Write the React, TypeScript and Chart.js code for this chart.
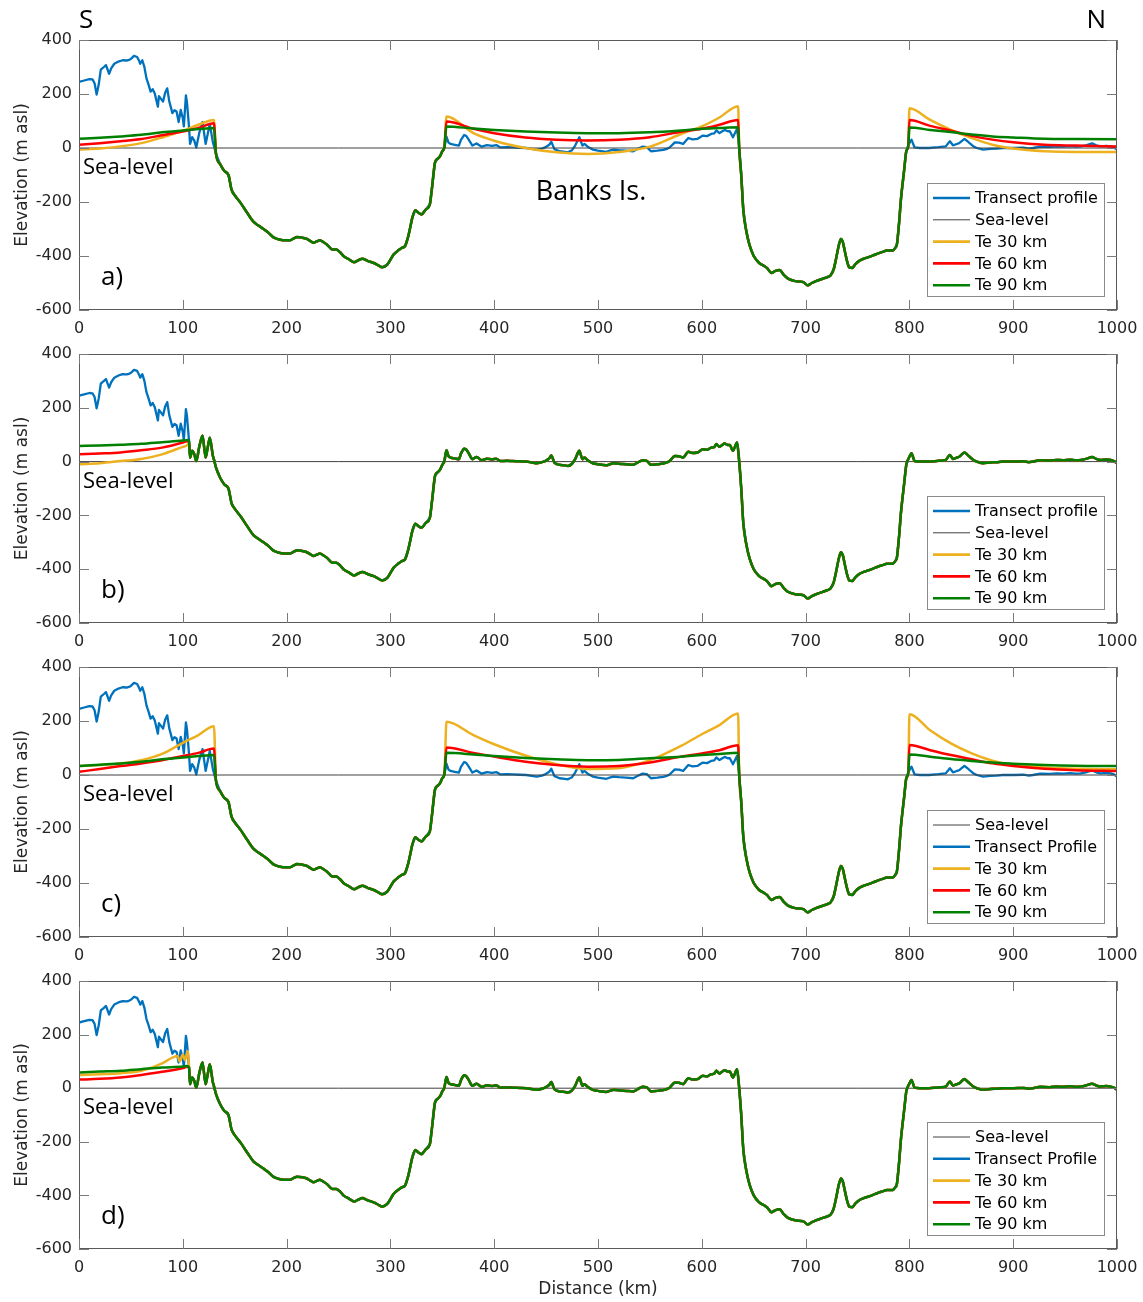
import React, { useEffect, useRef } from 'react';
import { Chart, registerables } from 'chart.js';
Chart.register(...registerables);

// ---------- Transect profile (distance km, elevation m) ----------
const PROFILE_KM = [0,5,10,13,15,17,19,21,24,26,29,31,34,38,42,46,48,50,53,56,58,59,61,63,65,67,69,71,73,76,77,79,81,83,85,87,90,92,94,96,98,100,101,103,104,106,107,109,111,113,116,119,122,124,126,129,130,132,136,140,144,147,150,156,162,168,172,177,182,187,192,197,203,207,210,215,219,223,226,229,232,236,239,244,248,252,255,260,265,269,273,278,284,288,292,297,303,308,311,314,317,319,321,324,327,330,334,338,340,343,346,348,350,352,354,356,358,362,366,368,371,373,375,379,383,388,393,398,402,406,412,418,425,431,436,441,446,449,453,455,458,463,468,471,475,478,482,485,487,490,495,500,508,512,515,520,527,534,538,543,547,551,557,563,567,569,574,578,582,587,591,596,601,605,609,612,614,617,619,622,625,627,630,634,636,638,640,643,646,650,655,660,663,667,671,675,679,683,690,698,702,706,710,716,721,724,727,729,732,734,736,737,740,742,745,748,752,756,760,765,770,775,778,784,786,788,790,792,795,797,799,801,802,805,810,819,828,835,839,842,845,848,853,856,858,862,865,871,878,884,890,900,910,915,919,926,935,942,948,955,960,965,970,976,980,984,990,994,997,1000];
const PROFILE_M = [245,250,255,254,240,198,235,290,300,307,275,295,312,320,325,324,326,330,341,337,322,312,325,300,258,235,209,218,202,153,192,182,172,205,221,172,129,140,135,96,141,110,80,195,170,77,15,40,28,2,58,96,15,52,89,21,8,-22,-60,-85,-100,-155,-175,-205,-240,-273,-285,-298,-312,-330,-338,-342,-342,-335,-330,-332,-336,-345,-351,-346,-342,-350,-358,-376,-376,-388,-401,-412,-423,-416,-410,-418,-426,-434,-442,-432,-395,-378,-370,-364,-330,-296,-260,-231,-240,-246,-228,-209,-150,-53,-38,-29,-12,2,42,20,15,12,9,30,48,45,34,9,17,5,11,8,11,2,3,2,1,0,-3,-6,-2,2,12,23,-4,-12,-14,-16,-8,9,40,9,15,5,-6,-10,-14,-9,-6,-8,-10,-12,-4,5,3,-12,-10,-7,-2,2,21,20,15,37,32,34,46,44,52,54,65,55,60,67,62,62,40,71,2,-100,-230,-310,-360,-400,-425,-437,-445,-463,-455,-452,-470,-484,-493,-497,-509,-500,-493,-485,-478,-472,-450,-417,-360,-337,-350,-368,-420,-442,-444,-430,-417,-410,-405,-398,-390,-384,-380,-380,-372,-356,-280,-184,-80,-12,10,25,31,2,0,0,3,6,25,10,14,18,34,25,18,5,0,-6,-3,-2,0,0,1,-2,0,5,4,6,5,7,5,6,10,17,10,6,8,6,2,-6];

// ---------- Flexural (Te) curves over land segments ----------
const SEG1_KM = [0,20,40,60,80,100,115,130];
const SEG2_KM = [354,380,400,430,460,490,520,550,580,600,617,635];
const SEG3_KM = [800,820,840,860,880,900,930,960,1000];

// panel a
const A_TE30_S1 = [-6,-2,6,18,39,64,86,104];
const A_TE60_S1 = [12,18,25,33,47,61,74,92];
const A_TE90_S1 = [34,38,43,49,58,65,70,74];
const A_TE30_S2 = [117,55,27,0,-16,-22,-15,5,52,80,113,155];
const A_TE60_S2 = [98,71,55,39,31,28,31,40,60,71,86,104];
const A_TE90_S2 = [80,72,67,61,57,55,55,58,65,71,74,77];
const A_TE30_S3 = [147,104,67,37,12,-2,-12,-15,-15];
const A_TE60_S3 = [104,82,64,45,31,21,12,9,6];
const A_TE90_S3 = [76,67,59,50,43,39,34,33,32];

// panel b
const B_SEG1_KM = [0,20,40,60,80,100,105];
const B_TE30_S1 = [-10,-6,2,10,27,55,65];
const B_TE60_S1 = [27,30,34,42,52,71,77];
const B_TE90_S1 = [58,60,63,66,72,78,80];

// panel c
const C_TE30_S1 = [33,37,43,55,78,119,148,181];
const C_TE60_S1 = [12,22,33,43,55,70,82,98];
const C_TE90_S1 = [33,38,43,49,58,65,70,74];
const C_TE30_S2 = [197,148,114,72,40,22,25,55,108,151,185,228];
const C_TE60_S2 = [102,82,68,49,37,31,33,46,68,80,92,110];
const C_TE90_S2 = [82,76,70,63,58,55,56,62,68,74,78,82];
const C_TE30_S3 = [225,166,117,80,53,37,28,23,21];
const C_TE60_S3 = [111,92,74,58,43,33,23,18,15];
const C_TE90_S3 = [76,68,59,52,46,42,37,34,33];

// panel d
const D_TE30_KM = [0,20,40,60,80,90,95,97,100,102,105];
const D_TE30_S1 = [49,52,56,65,93,114,120,100,126,105,139];
const D_TE_KM = [0,20,40,60,80,100,104];
const D_TE60_S1 = [32,35,40,49,61,75,80];
const D_TE90_S1 = [59,62,65,71,77,81,83];

const X_TICKS = { min: 0, max: 1000, step: 100 };
const Y_TICKS = { min: -600, max: 400, step: 200 };

const COLORS = { profile: '#0072BD', sea: '#404040', te30: '#EDB120', te60: '#FF0000', te90: '#008000' };

type Seg = { km: number[]; m: number[] };

function buildTe(segs: Seg[]) {
  const pts: { x: number; y: number; t: number }[] = [];
  segs.forEach((s) => s.km.forEach((k, i) => pts.push({ x: k, y: s.m[i], t: 0 })));
  PROFILE_KM.forEach((k, i) => {
    const inside = segs.some((s) => k >= s.km[0] && k <= s.km[s.km.length - 1]);
    if (!inside) pts.push({ x: k, y: PROFILE_M[i], t: 1 });
  });
  pts.sort((a, b) => a.x - b.x || a.t - b.t);
  return pts.map((p) => ({ x: p.x, y: p.y }));
}

const PANELS = [
  {
    key: 'a', label: 'a)', profileLabel: 'Transect profile', legendOrder: ['profile', 'sea', 'te30', 'te60', 'te90'], banks: true, sn: true,
    top: 0, padTop: 40, plotH: 270, xH: 30, xTitle: false,
    te30: [{ km: SEG1_KM, m: A_TE30_S1 }, { km: SEG2_KM, m: A_TE30_S2 }, { km: SEG3_KM, m: A_TE30_S3 }],
    te60: [{ km: SEG1_KM, m: A_TE60_S1 }, { km: SEG2_KM, m: A_TE60_S2 }, { km: SEG3_KM, m: A_TE60_S3 }],
    te90: [{ km: SEG1_KM, m: A_TE90_S1 }, { km: SEG2_KM, m: A_TE90_S2 }, { km: SEG3_KM, m: A_TE90_S3 }],
  },
  {
    key: 'b', label: 'b)', profileLabel: 'Transect profile', legendOrder: ['profile', 'sea', 'te30', 'te60', 'te90'], banks: false, sn: false,
    top: 340, padTop: 14, plotH: 269, xH: 30, xTitle: false,
    te30: [{ km: B_SEG1_KM, m: B_TE30_S1 }],
    te60: [{ km: B_SEG1_KM, m: B_TE60_S1 }],
    te90: [{ km: B_SEG1_KM, m: B_TE90_S1 }],
  },
  {
    key: 'c', label: 'c)', profileLabel: 'Transect Profile', legendOrder: ['sea', 'profile', 'te30', 'te60', 'te90'], banks: false, sn: false,
    top: 653, padTop: 14, plotH: 270, xH: 30, xTitle: false,
    te30: [{ km: SEG1_KM, m: C_TE30_S1 }, { km: SEG2_KM, m: C_TE30_S2 }, { km: SEG3_KM, m: C_TE30_S3 }],
    te60: [{ km: SEG1_KM, m: C_TE60_S1 }, { km: SEG2_KM, m: C_TE60_S2 }, { km: SEG3_KM, m: C_TE60_S3 }],
    te90: [{ km: SEG1_KM, m: C_TE90_S1 }, { km: SEG2_KM, m: C_TE90_S2 }, { km: SEG3_KM, m: C_TE90_S3 }],
  },
  {
    key: 'd', label: 'd)', profileLabel: 'Transect Profile', legendOrder: ['sea', 'profile', 'te30', 'te60', 'te90'], banks: false, sn: false,
    top: 967, padTop: 14, plotH: 268, xH: 53, xTitle: true,
    te30: [{ km: D_TE30_KM, m: D_TE30_S1 }],
    te60: [{ km: D_TE_KM, m: D_TE60_S1 }],
    te90: [{ km: D_TE_KM, m: D_TE90_S1 }],
  },
];

const TICK_FONT = 'DejaVu Sans';
const NOTE_FONT = '"Open Sans"';

const decorPlugin = {
  id: 'decor',
  afterDatasetsDraw(chart: any, _args: any, opts: any) {
    const { ctx, chartArea: ca, scales } = chart;
    const xs = scales.x, ys = scales.y;
    ctx.save();
    // axes box
    ctx.strokeStyle = '#5a5a5a';
    ctx.lineWidth = 1;
    ctx.strokeRect(ca.left + 0.5, ca.top + 0.5, ca.right - ca.left - 1, ca.bottom - ca.top - 1);
    // inward ticks
    ctx.strokeStyle = '#7a7a7a';
    ctx.beginPath();
    xs.ticks.forEach((t: any) => {
      const px = Math.round(xs.getPixelForValue(t.value)) + 0.5;
      ctx.moveTo(px, ca.top); ctx.lineTo(px, ca.top + 10);
      ctx.moveTo(px, ca.bottom); ctx.lineTo(px, ca.bottom - 10);
    });
    ys.ticks.forEach((t: any) => {
      const py = Math.round(ys.getPixelForValue(t.value)) + 0.5;
      ctx.moveTo(ca.left, py); ctx.lineTo(ca.left + 10, py);
      ctx.moveTo(ca.right, py); ctx.lineTo(ca.right - 10, py);
    });
    ctx.stroke();

    // annotations
    const zeroY = ys.getPixelForValue(0);
    ctx.fillStyle = '#000';
    ctx.textBaseline = 'alphabetic';
    ctx.textAlign = 'left';
    ctx.font = `22px ${NOTE_FONT}`;
    ctx.fillText('Sea-level', ca.left + 4, zeroY + 26);
    ctx.font = `26px ${NOTE_FONT}`;
    ctx.fillText(opts.label, ca.left + 22, ca.bottom - 25);
    if (opts.banks) {
      ctx.font = `27px ${NOTE_FONT}`;
      ctx.fillText('Banks Is.', xs.getPixelForValue(440), zeroY + 52);
    }
    if (opts.sn) {
      ctx.font = `26px ${NOTE_FONT}`;
      ctx.fillText('S', ca.left, 28);
      ctx.textAlign = 'right';
      ctx.fillText('N', ca.right - 11, 28);
      ctx.textAlign = 'left';
    }

    // legend
    const lw = 178, lh = 114;
    const lx = ca.right - 12 - lw, ly = ca.bottom - 13 - lh;
    ctx.fillStyle = '#fff';
    ctx.fillRect(lx, ly, lw, lh);
    ctx.strokeStyle = '#8a8a8a';
    ctx.strokeRect(lx + 0.5, ly + 0.5, lw - 1, lh - 1);
    ctx.font = `16px "${TICK_FONT}"`;
    ctx.textBaseline = 'middle';
    opts.items.forEach((it: any, i: number) => {
      const y = ly + 15 + i * 21.8;
      ctx.strokeStyle = it.color;
      ctx.lineWidth = it.width;
      ctx.beginPath();
      ctx.moveTo(lx + 6, y); ctx.lineTo(lx + 43, y);
      ctx.stroke();
      ctx.fillStyle = '#000';
      ctx.fillText(it.text, lx + 48, y + 1);
    });
    ctx.restore();
  },
};

function Panel({ p }: { p: (typeof PANELS)[number] }) {
  const ref = useRef<HTMLCanvasElement>(null);
  const height = p.padTop + p.plotH + p.xH;
  useEffect(() => {
    if (!ref.current) return;
    const profile = PROFILE_KM.map((k, i) => ({ x: k, y: PROFILE_M[i] }));
    const sea = [{ x: X_TICKS.min, y: 0 }, { x: X_TICKS.max, y: 0 }];
    const ds: Record<string, any> = {
      profile: { label: p.profileLabel, data: profile, borderColor: COLORS.profile, borderWidth: 2.3, order: 5 },
      sea: { label: 'Sea-level', data: sea, borderColor: COLORS.sea, borderWidth: 1, order: 4 },
      te30: { label: 'Te 30 km', data: buildTe(p.te30), borderColor: COLORS.te30, borderWidth: 2.5, order: 3, cubicInterpolationMode: 'monotone' },
      te60: { label: 'Te 60 km', data: buildTe(p.te60), borderColor: COLORS.te60, borderWidth: 2.5, order: 2, cubicInterpolationMode: 'monotone' },
      te90: { label: 'Te 90 km', data: buildTe(p.te90), borderColor: COLORS.te90, borderWidth: 2.5, order: 1, cubicInterpolationMode: 'monotone' },
    };
    const datasets = ['profile', 'sea', 'te30', 'te60', 'te90'].map((k) => ({ ...ds[k], pointRadius: 0, fill: false }));
    const items = p.legendOrder.map((k) => ({ text: ds[k].label, color: ds[k].borderColor, width: k === 'sea' ? 1 : 2.6 }));
    const tickFont = { family: TICK_FONT, size: 16 };
    const chart = new Chart(ref.current, {
      type: 'line',
      data: { datasets },
      plugins: [decorPlugin],
      options: {
        responsive: false,
        animation: false,
        devicePixelRatio: 1,
        events: [],
        layout: { padding: { top: p.padTop, right: 26, left: 0, bottom: 0 } },
        elements: { line: { borderJoinStyle: 'round', borderCapStyle: 'round' }, point: { radius: 0 } },
        plugins: {
          legend: { display: false },
          tooltip: { enabled: false },
          decor: { label: p.label, banks: p.banks, sn: p.sn, items },
        } as any,
        scales: {
          x: {
            type: 'linear', min: X_TICKS.min, max: X_TICKS.max,
            ticks: { stepSize: X_TICKS.step, color: '#262626', font: tickFont, padding: 9, maxRotation: 0, autoSkip: false, callback: (v: any) => String(v) },
            grid: { display: false, drawTicks: false },
            border: { display: false },
            title: { display: p.xTitle, text: 'Distance (km)', color: '#262626', font: { family: TICK_FONT, size: 17 }, padding: { top: 2, bottom: 2 } },
            afterFit: (s: any) => { s.height = p.xH; s.paddingLeft = 0; s.paddingRight = 0; },
          },
          y: {
            type: 'linear', min: Y_TICKS.min, max: Y_TICKS.max,
            ticks: { stepSize: Y_TICKS.step, color: '#262626', font: tickFont, padding: 7, callback: (v: any) => String(v) },
            grid: { display: false, drawTicks: false },
            border: { display: false },
            title: { display: true, text: 'Elevation (m asl)', color: '#262626', font: { family: TICK_FONT, size: 17 }, padding: { top: 12, bottom: 0 } },
            afterFit: (s: any) => { s.width = 79; s.paddingTop = 0; s.paddingBottom = 0; },
          },
        },
      } as any,
    });
    return () => chart.destroy();
  }, []);
  return <canvas ref={ref} width={1143} height={height} style={{ position: 'absolute', left: 0, top: p.top, width: 1143, height }} />;
}

export default function App() {
  return (
    <div style={{ position: 'absolute', left: 0, top: 0, width: 1143, height: 1302, background: '#fff', overflow: 'hidden' }}>
      {PANELS.map((p) => <Panel key={p.key} p={p} />)}
    </div>
  );
}
